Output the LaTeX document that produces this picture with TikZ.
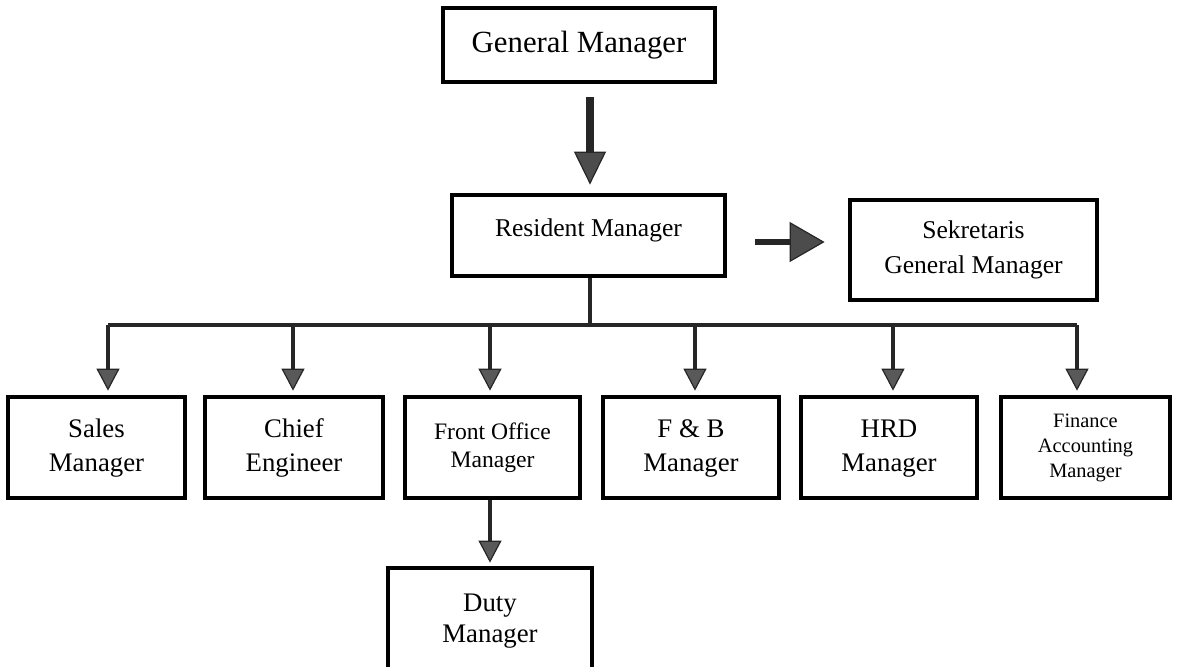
\documentclass[tikz,border=0pt]{standalone}
\usepackage{fontspec}
\setmainfont{Liberation Serif}
\usetikzlibrary{arrows.meta}
\tikzset{
  orgbox/.style={draw=black, line width=2.4pt, inner sep=0pt, align=center, fill=white},
  lowbox/.style={orgbox, minimum height=50.5pt, font=\fontsize{13.4}{17}\selectfont},
  treeline/.style={line width=1.8pt, draw=black!85},
  smalltip/.style={treeline, -{Triangle[length=11pt,width=11.5pt,fill=black!65,line width=0.6pt]}},
}
\begin{document}
\begin{tikzpicture}[x=0.5pt,y=-0.5pt]
\useasboundingbox (0,0) rectangle (1180,666);
\fill[white] (0,0) rectangle (1180,666);
% top boxes
\node[orgbox, minimum width=136pt, minimum height=37pt, font=\fontsize{15.4}{18}\selectfont] (gm) at (579,45) {General Manager};
\node[orgbox, minimum width=136.5pt, minimum height=40.5pt, font=\fontsize{12.8}{16}\selectfont] (rm) at (588.5,235.5) {\raisebox{7.5pt}{Resident Manager}};
\node[orgbox, minimum width=123.5pt, minimum height=50pt, font=\fontsize{12.8}{17.5}\selectfont] (sek) at (973.5,250) {Sekretaris\\General Manager};
% bottom boxes
\node[lowbox, minimum width=88.5pt] (sales) at (96.5,447.5) {\raisebox{2pt}{\begin{tabular}{@{}c@{}}Sales\\Manager\end{tabular}}};
\node[lowbox, minimum width=89pt] (chief) at (294,447.5) {\raisebox{2pt}{\begin{tabular}{@{}c@{}}Chief\\Engineer\end{tabular}}};
\node[lowbox, minimum width=87.5pt, font=\fontsize{11.8}{14}\selectfont] (fo) at (492.5,447.5) {\raisebox{3.5pt}{\begin{tabular}{@{}c@{}}Front Office\\Manager\end{tabular}}};
\node[lowbox, minimum width=88pt] (fb) at (691,447.5) {\raisebox{2pt}{\begin{tabular}{@{}c@{}}F \& B\\Manager\end{tabular}}};
\node[lowbox, minimum width=88pt] (hrd) at (889,447.5) {\raisebox{2pt}{\begin{tabular}{@{}c@{}}HRD\\Manager\end{tabular}}};
\node[lowbox, minimum width=84.5pt, font=\fontsize{10.2}{12.5}\selectfont] (fin) at (1085.5,447.5) {Finance\\Accounting\\Manager};
\node[orgbox, minimum width=102pt, minimum height=53pt, font=\fontsize{13.4}{15.5}\selectfont] (duty) at (490,621) {\raisebox{5pt}{\begin{tabular}{@{}c@{}}Duty\\Manager\end{tabular}}};
% helper coordinates
\coordinate (bus) at (590,325);
\coordinate (ry) at (0,242);
\coordinate (b1) at (108,325);
\coordinate (b2) at (293,325);
\coordinate (b3) at (490,325);
\coordinate (b4) at (695,325);
\coordinate (b5) at (893,325);
\coordinate (b6) at (1077,325);
% main arrows
\draw[line width=4pt, draw=black!85, -{Triangle[length=16.5pt,width=16pt,fill=black!70,line width=0.6pt]}]
  ([xshift=5.5pt,yshift=-6.5pt]gm.south) -- ([xshift=0.75pt,yshift=4pt]rm.north);
\draw[line width=2.6pt, draw=black!85, -{Triangle[length=17.5pt,width=20pt,fill=black!70,line width=0.6pt]}]
  ([xshift=14pt]rm.east |- ry) -- ([xshift=-11.5pt]sek.west |- ry);
% tree
\draw[treeline] ([xshift=0.75pt]rm.south) -- ([xshift=0.75pt]rm.south |- bus);
\draw[treeline] (b1) -- (b6);
\draw[smalltip] (b1) -- ([yshift=2pt]b1 |- sales.north);
\draw[smalltip] (b2) -- ([yshift=2pt]b2 |- chief.north);
\draw[smalltip] (b3) -- ([yshift=2pt]b3 |- fo.north);
\draw[smalltip] (b4) -- ([yshift=2pt]b4 |- fb.north);
\draw[smalltip] (b5) -- ([yshift=2pt]b5 |- hrd.north);
\draw[smalltip] (b6) -- ([yshift=2pt]b6 |- fin.north);
\draw[smalltip] ([xshift=-1.25pt]fo.south) -- ([yshift=1.5pt]duty.north);
\end{tikzpicture}
\end{document}
